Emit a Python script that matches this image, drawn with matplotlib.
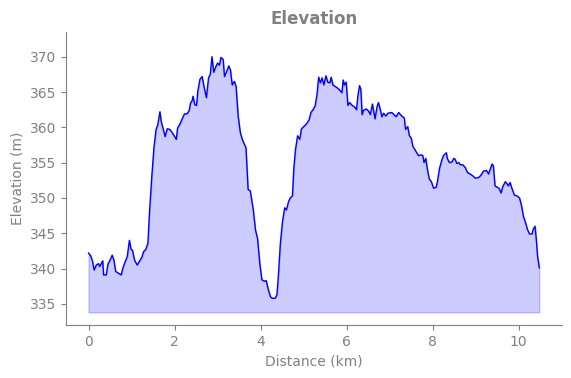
import matplotlib
matplotlib.use("Agg")
from matplotlib import pyplot as plt
import numpy as np

plt.rcParams['font.family'] = ['DejaVu Sans']

# distance along route (km) and elevation (m)
dist = [0.00, 0.05, 0.09, 0.13, 0.18, 0.23, 0.26, 0.33, 0.35, 0.41,
        0.45, 0.50, 0.55, 0.59, 0.63, 0.68, 0.76, 0.79, 0.84, 0.90,
        0.95, 0.99, 1.02, 1.07, 1.13, 1.18, 1.24, 1.28, 1.33, 1.38,
        1.42, 1.47, 1.52, 1.57, 1.61, 1.66, 1.69, 1.73, 1.78, 1.83,
        1.89, 1.95, 2.00, 2.04, 2.07, 2.12, 2.17, 2.23, 2.29, 2.34,
        2.37, 2.41, 2.43, 2.47, 2.51, 2.54, 2.59, 2.64, 2.69, 2.74,
        2.79, 2.83, 2.87, 2.91, 2.96, 3.00, 3.04, 3.08, 3.13, 3.16,
        3.21, 3.26, 3.30, 3.34, 3.39, 3.43, 3.48, 3.53, 3.58, 3.66,
        3.71, 3.76, 3.83, 3.88, 3.93, 3.98, 4.03, 4.09, 4.13, 4.18,
        4.23, 4.27, 4.34, 4.38, 4.41, 4.46, 4.51, 4.56, 4.60, 4.65,
        4.69, 4.74, 4.77, 4.81, 4.86, 4.91, 4.95, 5.02, 5.08, 5.13,
        5.17, 5.22, 5.27, 5.31, 5.35, 5.39, 5.43, 5.47, 5.52, 5.56,
        5.61, 5.64, 5.68, 5.78, 5.85, 5.89, 5.92, 5.95, 5.99, 6.03,
        6.07, 6.13, 6.18, 6.23, 6.26, 6.30, 6.33, 6.36, 6.39, 6.46,
        6.51, 6.55, 6.60, 6.66, 6.71, 6.74, 6.78, 6.82, 6.86, 6.91,
        6.96, 7.05, 7.15, 7.21, 7.25, 7.34, 7.37, 7.42, 7.46, 7.50,
        7.54, 7.60, 7.65, 7.67, 7.74, 7.77, 7.80, 7.84, 7.88, 7.92,
        7.97, 8.02, 8.08, 8.11, 8.16, 8.21, 8.25, 8.32, 8.34, 8.39,
        8.45, 8.49, 8.52, 8.56, 8.61, 8.64, 8.70, 8.76, 8.81, 8.87,
        8.94, 8.99, 9.07, 9.12, 9.18, 9.25, 9.30, 9.34, 9.38, 9.41,
        9.45, 9.51, 9.55, 9.59, 9.63, 9.69, 9.73, 9.76, 9.80, 9.84,
        9.90, 9.96, 10.02, 10.07, 10.11, 10.16, 10.20, 10.25, 10.31, 10.34,
        10.38, 10.41, 10.44, 10.48]
elev = [342.2, 341.8, 341.1, 339.8, 340.5, 340.7, 340.3, 341.1, 339.1, 339.1,
        340.6, 341.2, 341.9, 341.2, 339.6, 339.4, 339.1, 339.9, 340.8, 341.7,
        344.0, 342.7, 342.6, 341.2, 340.5, 341.0, 341.6, 342.4, 342.7, 343.6,
        348.3, 353.0, 357.1, 359.7, 360.4, 362.2, 360.8, 359.9, 358.7, 359.8,
        359.7, 359.2, 358.7, 358.3, 359.9, 360.4, 361.1, 361.9, 361.9, 362.4,
        363.4, 363.8, 364.4, 363.2, 363.1, 365.1, 366.8, 367.2, 365.6, 364.2,
        367.0, 367.5, 370.0, 367.8, 368.6, 369.1, 368.8, 369.9, 369.6, 367.2,
        367.9, 368.7, 368.1, 366.0, 366.5, 365.8, 361.5, 359.2, 358.2, 357.1,
        351.2, 351.0, 348.3, 345.5, 344.2, 340.8, 338.4, 338.2, 338.3, 337.0,
        336.0, 335.8, 335.8, 336.3, 338.7, 343.6, 346.7, 348.6, 348.3, 349.5,
        350.0, 350.3, 354.0, 356.8, 358.8, 358.3, 359.8, 360.2, 360.6, 361.1,
        362.1, 362.5, 363.1, 364.6, 367.1, 366.3, 367.0, 366.0, 367.3, 366.4,
        366.3, 367.1, 366.0, 365.6, 365.2, 364.9, 366.7, 366.0, 366.4, 363.1,
        363.5, 363.1, 362.9, 362.5, 364.4, 365.9, 365.4, 361.8, 362.4, 362.6,
        362.3, 361.8, 363.3, 361.2, 363.0, 363.5, 362.6, 361.5, 362.0, 361.6,
        362.0, 362.1, 361.5, 362.1, 361.8, 361.3, 359.7, 360.1, 358.8, 358.5,
        357.3, 356.7, 356.2, 356.0, 356.1, 356.0, 355.0, 355.6, 354.0, 352.7,
        352.3, 351.4, 351.5, 352.3, 354.2, 355.3, 356.0, 356.4, 355.6, 355.0,
        355.1, 355.6, 355.5, 354.9, 355.0, 354.7, 354.7, 354.3, 353.6, 353.4,
        353.1, 352.8, 352.9, 353.2, 353.8, 353.9, 353.4, 354.1, 354.8, 354.6,
        351.7, 351.5, 351.3, 350.7, 351.6, 352.3, 352.0, 351.7, 352.2, 351.4,
        350.4, 350.3, 350.0, 348.8, 347.4, 346.5, 345.6, 344.9, 344.9, 345.6,
        346.0, 344.1, 341.7, 340.1]

dist = np.array(dist)
elev = np.array(elev)
base = elev.min() - 2

fig, ax = plt.subplots(figsize=(5.71, 3.78), dpi=100)
fig.subplots_adjust(left=0.1156, right=0.984, top=0.9145, bottom=0.14)

ax.plot(dist, elev, color='blue', linewidth=1)
ax.fill_between(dist, elev, base, color='blue', alpha=0.2)
ax.set_ylim(332.0, 373.45)

ax.set_title("Elevation", color='gray', fontsize=12, fontweight='bold')
ax.set_xlabel("Distance (km)", color='gray')
ax.set_ylabel("Elevation (m)", color='gray')

for side in ['top', 'right']:
    ax.spines[side].set_visible(False)
for side in ['left', 'bottom']:
    ax.spines[side].set_color('gray')
ax.tick_params(colors='gray')

plt.savefig("out.png")
